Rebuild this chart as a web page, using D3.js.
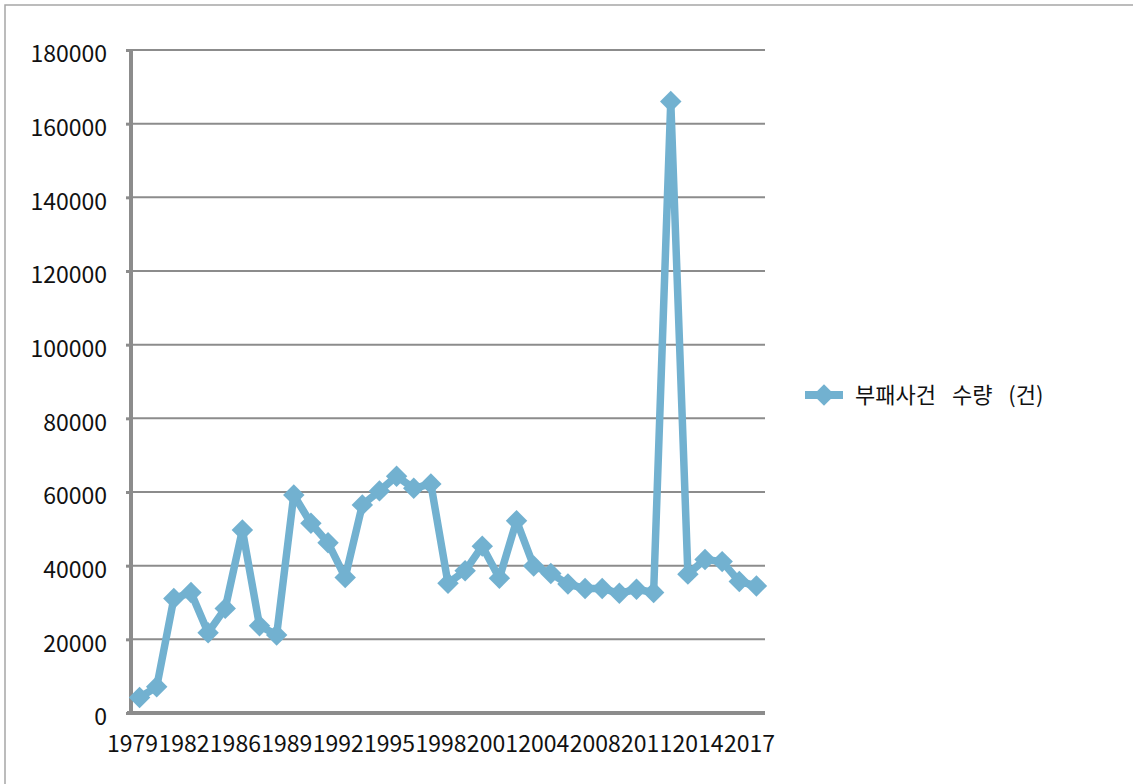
<!DOCTYPE html>
<html>
<head>
<meta charset="utf-8">
<script src="https://cdn.jsdelivr.net/npm/d3@7"></script>
<style>
  body { margin: 0; background: #fff; }
  svg { display: block; }
  text { font-family: "Noto Sans CJK KR", "Noto Sans", sans-serif; fill: #111; }
</style>
</head>
<body>
<svg id="chart" width="1133" height="784"></svg>
<script>
// Yearly number of corruption cases
const years = [
  1979, 1980, 1981, 1982, 1984, 1985, 1986, 1987, 1988, 1989,
  1990, 1991, 1992, 1993, 1994, 1995, 1996, 1997, 1998, 1999,
  2000, 2001, 2002, 2003, 2004, 2005, 2007, 2008, 2009, 2010,
  2011, 2012, 2013, 2014, 2015, 2016, 2017
];
const cases = [
  4200, 7100, 31100, 32700, 21800, 28400, 49700, 23700, 21200, 59200,
  51500, 46200, 36800, 56500, 60300, 64300, 61000, 62200, 35200, 38600,
  45300, 36600, 52200, 39900, 37900, 35000, 33800, 33800, 32500, 33600,
  32700, 166000, 37700, 41700, 41100, 35700, 34500
];
const yTicks = [0, 20000, 40000, 60000, 80000, 100000, 120000, 140000, 160000, 180000];
const xLabelYears = years.filter((d, i) => i % 3 === 0);
const seriesName = "부패사건 수량 (건)";

const lineColor = "#72b1d0";
const axisColor = "#8c8c8c";

const svg = d3.select("#chart");

// outer frame (top and left edges visible)
svg.append("rect")
  .attr("x", 5).attr("y", 5)
  .attr("width", 1200).attr("height", 900)
  .attr("fill", "none")
  .attr("stroke", "#a6a6a6")
  .attr("stroke-width", 1.5);

const plot = { left: 131, right: 765, top: 50, bottom: 713 };

const x = d3.scaleBand()
  .domain(years)
  .range([plot.left, plot.right]);
const xc = d => x(d) + x.bandwidth() / 2;

const y = d3.scaleLinear()
  .domain([0, 180000])
  .range([plot.bottom, plot.top]);

// horizontal gridlines
svg.append("g")
  .selectAll("line")
  .data(yTicks.filter(v => v > 0))
  .join("line")
  .attr("x1", plot.left).attr("x2", plot.right)
  .attr("y1", d => y(d)).attr("y2", d => y(d))
  .attr("stroke", axisColor)
  .attr("stroke-width", 2);

// value axis
const yAxis = svg.append("g")
  .attr("transform", `translate(${plot.left},0)`)
  .call(d3.axisLeft(y).tickValues(yTicks).tickSize(5).tickPadding(19).tickFormat(d3.format("d")));
yAxis.select(".domain")
  .attr("d", `M0,${plot.top}V${plot.bottom + 2}`)
  .attr("stroke", axisColor)
  .attr("stroke-width", 4);
yAxis.selectAll(".tick line")
  .attr("stroke", axisColor)
  .attr("stroke-width", 3);
yAxis.selectAll(".tick text")
  .attr("font-size", 23)
  .attr("font-family", "Noto Sans CJK KR")
  .attr("fill", "#111")
  .attr("dy", "0.52em");

// category axis
const xAxis = svg.append("g")
  .attr("transform", `translate(0,${plot.bottom})`)
  .call(d3.axisBottom(x).tickValues(xLabelYears).tickSize(0).tickPadding(23));
xAxis.select(".domain")
  .attr("d", `M${plot.left - 4},0H${plot.right}`)
  .attr("stroke", axisColor)
  .attr("stroke-width", 4);
xAxis.selectAll(".tick text")
  .attr("font-size", 23)
  .attr("font-family", "Noto Sans CJK KR")
  .attr("fill", "#111")
  .attr("dx", -7);

// series line
const points = years.map((yr, i) => ({ yr, v: cases[i] }));
svg.append("path")
  .datum(points)
  .attr("fill", "none")
  .attr("stroke", lineColor)
  .attr("stroke-width", 7.5)
  .attr("stroke-linejoin", "round")
  .attr("d", d3.line().x(d => xc(d.yr)).y(d => y(d.v)));

// diamond markers
const diamond = d3.symbol().type(d3.symbolSquare).size(230);
svg.append("g")
  .selectAll("path")
  .data(points)
  .join("path")
  .attr("d", diamond)
  .attr("transform", d => `translate(${xc(d.yr)},${y(d.v)}) rotate(45)`)
  .attr("fill", lineColor);

// legend
const legend = svg.append("g").attr("transform", "translate(805,395)");
legend.append("line")
  .attr("x1", 0).attr("x2", 38)
  .attr("stroke", lineColor)
  .attr("stroke-width", 8);
legend.append("path")
  .attr("d", diamond)
  .attr("transform", "translate(19,0) rotate(45)")
  .attr("fill", lineColor);
legend.append("text")
  .attr("x", 50)
  .attr("dy", "0.35em")
  .attr("font-size", 22)
  .attr("word-spacing", 11)
  .text(seriesName);
</script>
</body>
</html>
